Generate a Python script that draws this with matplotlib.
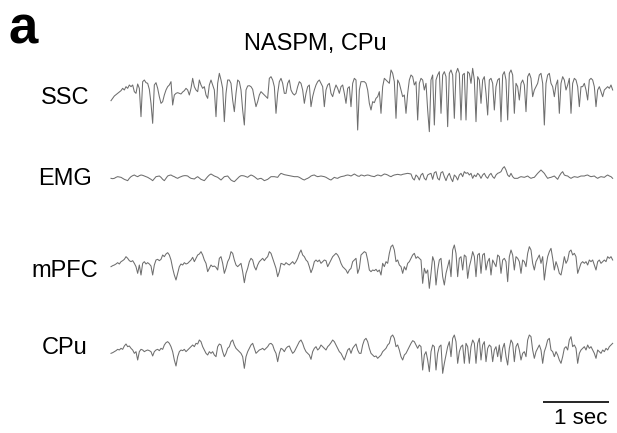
import numpy as np
import matplotlib
matplotlib.use("Agg")
import matplotlib.pyplot as plt

plt.rcParams['font.family'] = ['Liberation Sans', 'DejaVu Sans']

fs = 39.6

ssc = [
    -32,-25,-18,-14,-10,-6,-2,5,0,10,
    5,15,10,15,-5,-10,18,5,-80,25,
    30,22,20,2,-40,-100,15,22,5,-20,
    -40,-35,-15,0,10,15,25,-45,-15,-10,
    -8,-10,-12,-6,-2,5,0,-15,5,35,
    10,0,-5,30,15,5,10,-15,-25,15,
    30,15,0,-80,20,50,30,5,-95,-10,
    30,30,20,-30,-65,-10,30,25,0,-60,
    -105,0,12,13,10,2,-25,-50,-35,-15,
    -5,-10,-15,-20,-25,35,40,30,10,-70,
    -10,25,35,20,-10,-10,20,30,0,-10,
    -15,-10,10,25,20,0,-40,-10,10,15,
    -50,-20,0,15,25,30,20,10,-50,0,
    15,20,-10,-20,0,15,5,-10,10,15,
    -10,-40,5,10,-50,20,35,30,-120,0,
    25,25,25,20,0,-40,-60,-35,-38,-25,
    -20,-5,-70,10,35,30,25,20,60,50,
    25,-85,30,20,0,-20,-15,-70,-10,30,
    45,40,15,25,-90,20,35,30,0,20,
    -60,-125,30,45,-105,30,45,55,-70,45,
    55,40,-110,50,60,45,-85,50,65,50,
    -90,45,50,-90,55,50,20,65,30,-95,
    40,30,-40,30,40,-10,-75,30,35,20,
    -60,10,30,35,-95,45,55,30,-90,50,
    60,45,-70,20,10,-30,20,30,15,-65,
    40,50,35,-20,0,10,20,45,50,20,
    -105,20,45,50,20,10,-20,15,30,-70,
    20,40,30,0,15,35,-70,20,35,30,
    10,-50,10,10,20,0,-30,30,35,30,
    10,-50,0,10,-5,-20,0,5,10,5,
    15,0,
]

emg = [
    -5,-6,-5,-2,0,-1,-2,-5,-8,-10,
    -12,-5,0,3,5,2,0,3,5,4,
    2,0,-2,-5,-8,-12,-6,0,1,2,
    -2,-8,-12,-5,2,4,5,2,0,-3,
    -5,-2,0,2,3,3,2,-2,-5,-6,
    -7,-3,0,-4,-8,-10,-12,-6,0,5,
    8,5,2,0,-2,-6,-10,-5,0,1,
    2,-4,-10,-13,-15,-10,-5,0,3,3,
    2,0,-2,2,5,3,0,-4,-8,-6,
    -5,-8,-12,-10,-8,-4,0,0,0,-1,
    -2,5,10,8,6,5,4,3,2,1,
    0,0,0,-2,-5,-8,-10,-7,-5,-2,
    2,4,5,2,0,1,2,1,0,-2,
    -5,-8,-10,-6,-2,-4,-5,-2,0,1,
    2,4,5,4,2,5,8,5,2,1,
    5,4,2,4,5,4,2,1,0,3,
    5,4,2,5,8,7,5,2,0,3,
    5,6,7,6,5,7,8,9,10,9,
    8,-5,-10,5,0,-10,5,10,-5,-10,
    5,8,10,-8,12,15,-5,-10,12,15,
    0,-12,2,10,-5,-15,5,0,-10,5,
    10,0,15,10,12,5,10,-5,5,0,
    10,5,-5,5,10,0,-5,5,10,0,
    -5,5,10,12,15,25,30,20,5,0,
    10,0,-5,-5,-5,-2,0,-1,-2,0,
    2,-2,-5,-3,-2,4,10,15,20,15,
    10,2,-5,-3,-2,0,2,-3,-8,2,
    10,15,5,3,2,-2,-5,-2,0,-1,
    -2,0,2,2,2,4,5,2,0,1,
    2,-2,-5,-2,0,-1,-2,2,5,2,
    0,-5,
]

mpfc = [
    -5,-2,0,3,7,3,10,13,17,25,
    20,13,10,13,5,-5,-25,0,-30,5,
    10,3,7,3,-3,-30,0,15,17,13,
    17,30,25,33,37,30,15,-10,-30,-45,
    -25,-5,3,0,7,3,5,10,15,23,
    10,20,30,33,40,30,15,5,-20,-10,
    0,-5,-3,-7,-15,20,25,5,-25,-10,
    10,20,40,35,15,0,-5,0,5,-20,
    -53,-25,-10,10,20,15,-5,-15,0,10,
    15,20,13,20,25,40,35,20,5,-10,
    -35,-20,5,3,0,7,3,0,5,10,
    3,10,20,35,45,30,25,15,10,-5,
    -23,-10,10,15,10,15,5,10,15,13,
    -5,5,15,25,30,35,30,20,5,-5,
    -10,-15,-25,-15,-10,10,15,20,-25,-10,
    30,35,40,37,15,-15,-20,-15,-17,-13,
    -20,-15,-30,5,-5,10,5,35,55,60,
    45,10,15,0,-5,-25,-5,-15,5,10,
    20,30,35,20,25,20,15,-55,-10,-25,
    -15,-70,-25,25,10,-60,-15,15,20,-35,
    -60,-25,-5,15,-35,45,60,35,-35,20,
    25,-15,30,25,-40,-5,15,40,25,-35,
    30,35,-25,30,35,-15,10,20,-30,15,
    5,-5,30,25,-25,15,20,10,-50,25,
    45,30,-15,25,20,10,-25,15,10,-5,
    35,55,45,5,-15,10,20,30,5,25,
    -45,-5,25,40,50,20,-15,10,-5,-25,
    -30,-5,25,5,15,40,45,30,35,25,
    -25,-10,5,10,5,10,0,15,10,15,
    0,-15,10,15,5,10,15,10,25,20,
    25,15,
]

cpu = [
    -5,-3,0,3,7,5,10,7,17,23,
    15,17,10,5,-5,0,-25,0,7,5,
    0,3,5,3,0,-13,0,5,7,3,
    10,7,20,27,30,25,15,0,-25,-43,
    -15,0,5,3,7,0,5,10,15,20,
    15,25,23,35,30,15,5,-5,-10,0,
    -5,0,-10,-15,15,23,20,0,-15,-5,
    10,15,30,35,20,10,5,0,-5,-15,
    -50,-15,0,10,20,25,10,-5,0,5,
    7,10,5,10,15,23,25,20,5,-5,
    -30,-5,10,7,0,10,15,17,5,-5,
    0,10,20,30,35,25,10,0,-5,-10,
    -23,0,10,15,5,10,20,15,10,5,
    15,20,27,35,30,20,10,0,-5,-15,
    -25,-10,5,10,-5,10,17,23,5,-5,
    -5,20,35,40,30,10,-5,-10,-15,-13,
    -20,-15,-10,0,5,10,20,25,45,50,
    40,15,20,5,-15,-25,-10,-5,5,15,
    25,33,30,20,10,20,15,-55,-10,0,
    -25,-60,0,20,15,-55,-5,15,20,-65,
    -35,-10,15,30,-15,40,50,30,-35,0,
    15,20,-35,25,15,-35,15,35,25,-35,
    25,40,-25,20,30,-30,10,20,15,-30,
    5,15,-15,20,-30,10,25,-15,-40,10,
    35,25,-30,15,25,5,-25,-5,0,-15,
    35,50,45,5,-20,0,10,20,5,-35,
    0,15,35,40,5,0,-15,0,-10,-25,
    -35,-15,10,15,5,35,45,15,20,10,
    -35,-5,5,10,15,5,20,10,15,5,
    -5,-20,5,0,-5,5,0,10,5,15,
    20,25,
]

channels = ["SSC", "EMG", "mPFC", "CPu"]
title = "NASPM, CPu"
panel = "a"
scale_label = "1 sec"
scale_len = 1.0  # seconds

W, H = 617, 433
fig = plt.figure(figsize=(W / 100, H / 100), dpi=100)
ax = fig.add_axes([0, 0, 1, 1])
ax.set_axis_off()

# layout: 66 px per second, trace start at x=111 px; 3 amplitude units per px
px_per_s = 66.0
x0 = 111.0
ax.set_xlim(-x0 / px_per_s, (W - x0) / px_per_s)
ax.set_ylim(-3 * H, 0)

offsets = [-270, -530, -795, -1055]
traces = [ssc, emg, mpfc, cpu]
for data, off in zip(traces, offsets):
    v = np.asarray(data, dtype=float)
    t = np.arange(len(v)) / fs
    ax.plot(t, v + off, color="#6e6e6e", lw=0.75, solid_joinstyle="round")

# channel labels
label_y = [97.5, 179, 271, 347.5]
for name, yp in zip(channels, label_y):
    fig.text(65 / W, 1 - yp / H, name, ha="center", va="center", fontsize=17)

fig.text(315 / W, 1 - 44 / H, title, ha="center", va="center", fontsize=17)
fig.text(9 / W, 1 - 29 / H, panel, ha="left", va="center", fontsize=38,
         fontweight="bold")

# scale bar
sb_start = (543 - x0) / px_per_s
ax.plot([sb_start, sb_start + scale_len], [-3 * 401.5, -3 * 401.5],
        color="black", lw=1.2, solid_capstyle="butt")
fig.text(580.5 / W, 1 - 418 / H, scale_label, ha="center", va="center",
         fontsize=16)

fig.savefig("out.png", dpi=100)
